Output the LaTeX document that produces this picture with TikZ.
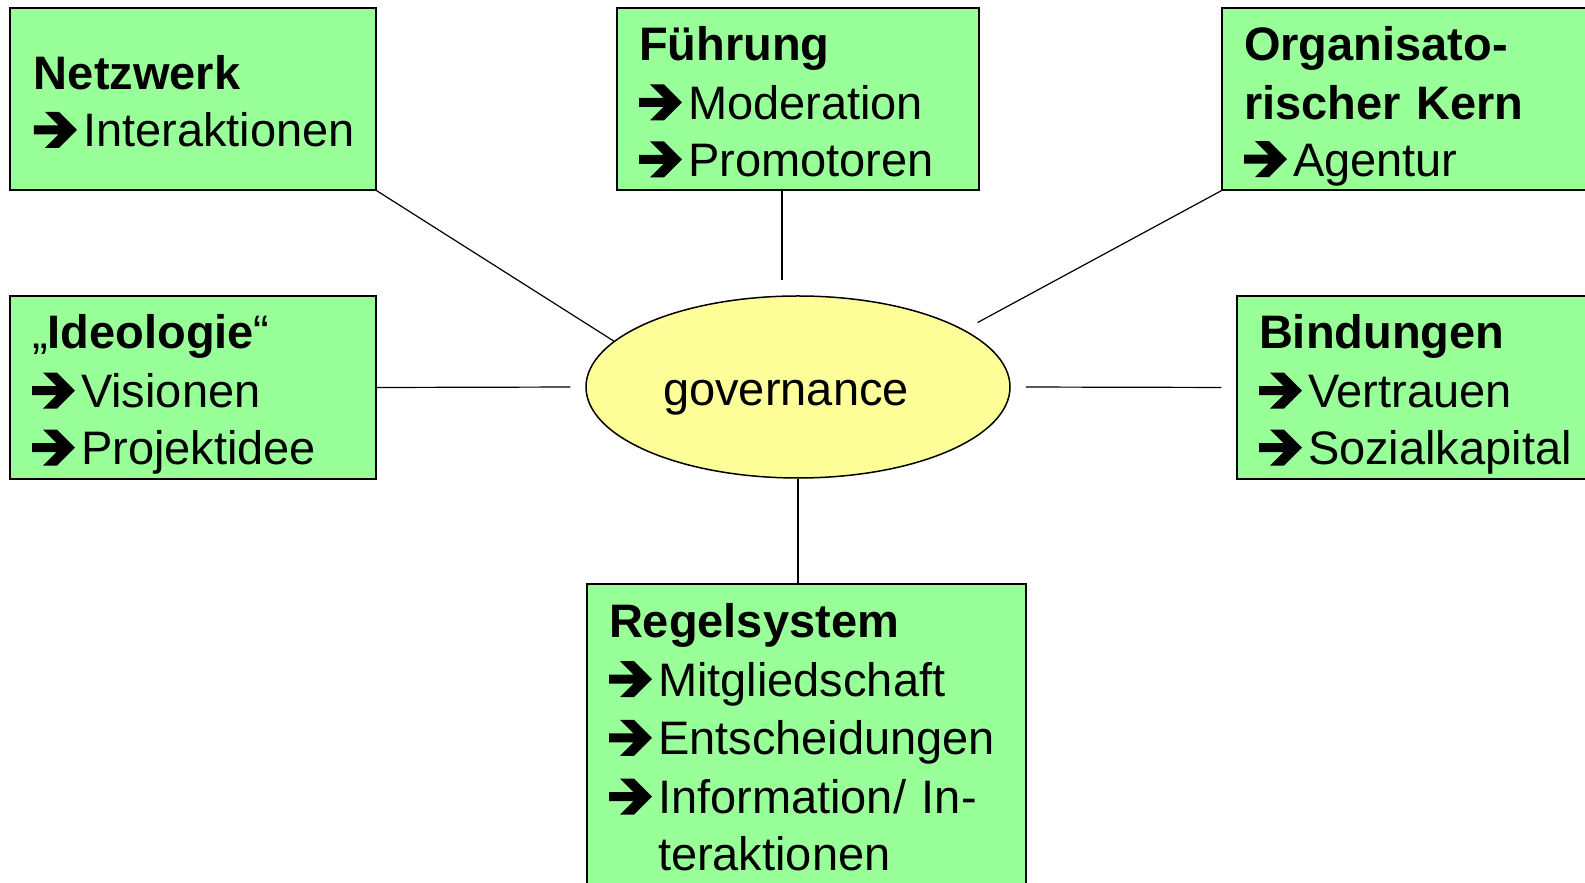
\documentclass[tikz,border=0pt]{standalone}
\usepackage{fontspec}
\setmainfont{Liberation Sans}
\definecolor{mint}{RGB}{153,255,153}
\definecolor{pale-yellow}{RGB}{255,255,153}
\usetikzlibrary{shapes.geometric}
% same height and depth for every line
\newcommand{\strutline}{\rule[-9pt]{0pt}{57pt}}
% heavy arrow in front of each item
\newcommand{\goesto}{%
  \strutline\makebox[49pt][l]{\tikz[x=1pt,y=1pt,baseline=0pt]
    \path [fill=black,draw=none] (0,12.5) -- (24.5,12.5) -- (11,-1) -- (25,-1)
      -- (43,17) -- (25,35) -- (11,35) -- (24.5,21.5) -- (0,21.5) -- cycle;}}
\newcommand{\head}[1]{\strutline\textbf{#1}}

\begin{document}
\begin{tikzpicture}[%
    x=1pt,y=1pt,
    big/.style={font=\fontsize{47}{57}\selectfont},
    topic/.style={%
      big,
      draw,
      line width=1.5pt,
      fill=mint,
      rectangle,
      align=left,
      inner xsep=22pt,
      inner ysep=0pt,
      anchor=center,
    },
    size/.style 2 args={text width=#1,minimum height=#2},
    link/.style={line width=1.2pt},
  ]
  \clip (0,0) rectangle (1585,883);

  % centre
  \node [%
    ellipse,
    draw,
    line width=1.5pt,
    fill=pale-yellow,
    minimum width=424pt,
    minimum height=182pt,
    inner sep=0pt,
    label={[big,xshift=-12pt,yshift=-11pt]center:governance},
  ] (gov) at (798,496) {};

  % topics round the centre
  \node [topic,size={318pt}{182pt},inner xsep=24pt] (netz) at (193,784)
    {\head{Netzwerk}\\\goesto Interaktionen};
  \node [topic,size={318pt}{182pt}] (fuehr) at (798,784)
    {\head{Führung}\\\goesto Moderation\\\goesto Promotoren};
  \node [topic,size={356pt}{182pt}] (org) at (1422,784)
    {\head{Organisato-}\\\head{rischer Kern}\\\goesto Agentur};
  \node [topic,size={322pt}{183pt}] (ideo) at (193,495.5)
    {\strutline„\textbf{Ideologie}“\\\goesto Visionen\\\goesto Projektidee};
  \node [topic,size={356pt}{183pt}] (bind) at (1437,495.5)
    {\head{Bindungen}\\\goesto Vertrauen\\\goesto Sozialkapital};
  \node [topic,size={395pt}{301pt}] (regel) at (806.5,148.5)
    {\head{Regelsystem}\\\goesto Mitgliedschaft\\\goesto Entscheidungen\\
     \goesto Information/ In-\\\strutline\hspace*{49pt}teraktionen};

  % connectors
  \draw [link] (netz.south east) -- (gov.166);
  \draw [link,shorten >=15pt] ([xshift=-16pt]fuehr.south) -- ([xshift=-16pt]gov.north);
  \draw [link,shorten >=15pt] (org.south west) -- (gov.19);
  \draw [link,shorten >=15pt] (ideo.east) -- (gov.west);
  \draw [link,shorten <=15pt,shorten >=15pt] (gov.east) -- (bind.west);
  \draw [link] (gov.south) -- (gov.south |- regel.north);
\end{tikzpicture}
\end{document}
